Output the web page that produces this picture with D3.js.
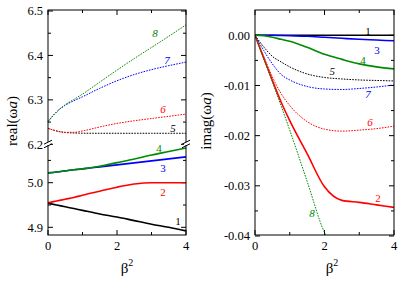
<!DOCTYPE html>
<html>
<head>
<meta charset="utf-8">
<script src="https://cdn.jsdelivr.net/npm/d3@7"></script>
<style>
  body { margin: 0; background: #fff; }
  svg { display: block; }
  text { font-family: "Liberation Serif", "Times New Roman", serif; }
</style>
</head>
<body>
<svg id="chart" width="399" height="284"></svg>
<script>
// beta^2 sample points
const beta2 = [0, 0.25, 0.5, 0.75, 1, 1.5, 2, 2.5, 3, 3.5, 4];
const beta2Steep = [0, 0.5, 1, 1.5, 2, 2.05];

// real(wa), lower band
const re1 = [4.954, 4.950, 4.946, 4.942, 4.938, 4.930, 4.923, 4.915, 4.907, 4.900, 4.892];
const re2 = [4.955, 4.959, 4.963, 4.967, 4.972, 4.981, 4.990, 4.997, 5.000, 5.000, 5.000];
const re3 = [5.022, 5.024, 5.0265, 5.029, 5.031, 5.0355, 5.040, 5.0445, 5.049, 5.0535, 5.058];
const re4 = [5.022, 5.024, 5.0265, 5.029, 5.031, 5.037, 5.045, 5.053, 5.062, 5.070, 5.078];
// real(wa), upper band
const re5 = [6.236, 6.230, 6.2265, 6.2255, 6.225, 6.2248, 6.2248, 6.2248, 6.2248, 6.2248, 6.2248];
const re6 = [6.236, 6.230, 6.227, 6.227, 6.230, 6.239, 6.247, 6.253, 6.258, 6.263, 6.268];
const re7 = [6.251, 6.273, 6.288, 6.298, 6.307, 6.326, 6.343, 6.357, 6.368, 6.377, 6.385];
const re8 = [6.251, 6.273, 6.289, 6.301, 6.313, 6.340, 6.367, 6.393, 6.418, 6.443, 6.469];

// imag(wa)
const im1 = [0, 0, 0, 0, 0, 0, 0, 0, 0, 0, 0];
const im2 = [0, -0.0045, -0.0090, -0.0133, -0.0170, -0.0236, -0.0302, -0.0329, -0.0333, -0.0338, -0.0343];
const im3 = [0, 0, 0, -0.00005, -0.0001, -0.0002, -0.0004, -0.0006, -0.0008, -0.00095, -0.0011];
const im4 = [0, -0.0001, -0.0004, -0.0008, -0.0012, -0.0024, -0.0038, -0.0048, -0.0057, -0.0063, -0.0067];
const im5 = [0, -0.0023, -0.0042, -0.0053, -0.0063, -0.0077, -0.0084, -0.0087, -0.0089, -0.0090, -0.0091];
const im6 = [0, -0.0042, -0.0083, -0.0116, -0.0140, -0.0172, -0.0187, -0.0191, -0.0189, -0.0186, -0.0181];
const im7 = [0, -0.0030, -0.0057, -0.0078, -0.0089, -0.0102, -0.0107, -0.0108, -0.0106, -0.0103, -0.0099];
const im8 = [0, -0.0093, -0.0189, -0.0291, -0.0393, -0.0400];

// ticks
const xTicks = [0, 2, 4];
const xMinor = [1, 3];
const upTicks = [6.2, 6.3, 6.4, 6.5];
const upMinor = [6.25, 6.35, 6.45];
const lowTicks = [4.9, 5.0];
const lowMinor = [4.95, 5.05];
const imTicks = [0, -0.01, -0.02, -0.03, -0.04];
const imMinor = [-0.005, -0.015, -0.025, -0.035];

const RED = "#ff0000", GREEN = "#008a00", BLUE = "#0000ff", BLACK = "#000";

const svg = d3.select("#chart");
const yTop = 10, yBottom = 235, breakY = 144;

const xL = d3.scaleLinear().domain([0, 4]).range([48, 186]);
const xR = d3.scaleLinear().domain([0, 4]).range([255, 394]);
const yUp = d3.scaleLinear().domain([6.2, 6.5]).range([144.3, 11]);
const yLow = d3.scaleLinear().domain([4.9, 5.0]).range([227.3, 182.7]);
const yIm = d3.scaleLinear().domain([-0.04, 0]).range([236, 35.3]);

const series = [
  // left panel
  { xs: beta2, ys: re1, x: xL, y: yLow, color: BLACK, dash: false, label: "1", lx: 3.77, ly: 4.914 },
  { xs: beta2, ys: re2, x: xL, y: yLow, color: RED, dash: false, label: "2", lx: 3.33, ly: 4.979 },
  { xs: beta2, ys: re3, x: xL, y: yLow, color: BLUE, dash: false, label: "3", lx: 3.33, ly: 5.033 },
  { xs: beta2, ys: re4, x: xL, y: yLow, color: GREEN, dash: false, label: "4", lx: 3.22, ly: 5.078 },
  { xs: beta2, ys: re5, x: xL, y: yUp, color: BLACK, dash: true, label: "5", lx: 3.62, ly: 6.237 },
  { xs: beta2, ys: re6, x: xL, y: yUp, color: RED, dash: true, label: "6", lx: 3.33, ly: 6.279 },
  { xs: beta2, ys: re7, x: xL, y: yUp, color: BLUE, dash: true, label: "7", lx: 3.45, ly: 6.390 },
  { xs: beta2, ys: re8, x: xL, y: yUp, color: GREEN, dash: true, label: "8", lx: 3.10, ly: 6.451 },
  // right panel
  { xs: beta2, ys: im1, x: xR, y: yIm, color: BLACK, dash: false, label: "1", lx: 3.25, ly: 0.0009, clip: true },
  { xs: beta2, ys: im2, x: xR, y: yIm, color: RED, dash: false, label: "2", lx: 3.54, ly: -0.0325, clip: true },
  { xs: beta2, ys: im3, x: xR, y: yIm, color: BLUE, dash: false, label: "3", lx: 3.51, ly: -0.0029, clip: true },
  { xs: beta2, ys: im4, x: xR, y: yIm, color: GREEN, dash: false, label: "4", lx: 3.11, ly: -0.0050, clip: true },
  { xs: beta2, ys: im5, x: xR, y: yIm, color: BLACK, dash: true, label: "5", lx: 2.22, ly: -0.0071, clip: true },
  { xs: beta2, ys: im6, x: xR, y: yIm, color: RED, dash: true, label: "6", lx: 3.31, ly: -0.0173, clip: true },
  { xs: beta2, ys: im7, x: xR, y: yIm, color: BLUE, dash: true, label: "7", lx: 3.25, ly: -0.0118, clip: true },
  { xs: beta2Steep, ys: im8, x: xR, y: yIm, color: GREEN, dash: true, label: "8", lx: 1.64, ly: -0.0355, clip: true }
];

svg.append("clipPath").attr("id", "clipR")
  .append("rect").attr("x", 255).attr("y", yTop).attr("width", 139).attr("height", yBottom - yTop);

// ticks (inward) on all four sides of a panel
function frameTicks(x, x0, x1) {
  const g = svg.append("g");
  const tick = (ax, ay, bx, by) => g.append("line")
      .attr("x1", ax).attr("y1", ay).attr("x2", bx).attr("y2", by)
      .attr("stroke", "#000").attr("stroke-width", 1);
  xTicks.forEach(t => { tick(x(t), yBottom, x(t), yBottom - 5); tick(x(t), yTop, x(t), yTop + 5); });
  xMinor.forEach(t => { tick(x(t), yBottom, x(t), yBottom - 3); tick(x(t), yTop, x(t), yTop + 3); });
  return (yv, len) => { tick(x0, yv, x0 + len, yv); tick(x1, yv, x1 - len, yv); };
}

const tickL = frameTicks(xL, 48, 186);
upTicks.forEach(t => tickL(yUp(t), 5));
upMinor.forEach(t => tickL(yUp(t), 3));
lowTicks.forEach(t => tickL(yLow(t), 5));
lowMinor.forEach(t => tickL(yLow(t), 3));

const tickR = frameTicks(xR, 255, 394);
imTicks.forEach(t => tickR(yIm(t), 5));
imMinor.forEach(t => tickR(yIm(t), 3));

// curves
const line = s => d3.line()
    .x(d => s.x(d[0]))
    .y(d => s.y(d[1]))
    .curve(d3.curveMonotoneX);

series.forEach(s => {
  svg.append("path")
    .datum(s.xs.map((b, i) => [b, s.ys[i]]))
    .attr("d", line(s))
    .attr("fill", "none")
    .attr("stroke", s.color)
    .attr("stroke-width", s.dash ? 1 : 1.6)
    .attr("stroke-dasharray", s.dash ? "1.6,1.2" : null)
    .attr("clip-path", s.clip ? "url(#clipR)" : null);
  svg.append("text")
    .attr("x", s.x(s.lx)).attr("y", s.y(s.ly)).attr("dy", "0.35em")
    .attr("text-anchor", "middle")
    .attr("font-size", 11)
    .attr("font-style", s.dash ? "italic" : "normal")
    .attr("fill", s.color)
    .text(s.label);
});

// frames
svg.append("rect").attr("x", 48).attr("y", yTop).attr("width", 138).attr("height", yBottom - yTop)
  .attr("fill", "none").attr("stroke", "#000").attr("stroke-width", 1);
svg.append("rect").attr("x", 255).attr("y", yTop).attr("width", 139).attr("height", yBottom - yTop)
  .attr("fill", "none").attr("stroke", "#000").attr("stroke-width", 1);

// axis break marks
[48, 186].forEach(bx => {
  svg.append("rect").attr("x", bx - 2).attr("y", breakY - 2).attr("width", 4).attr("height", 3).attr("fill", "#fff");
  [-1.8, 1.8].forEach(o => {
    svg.append("line")
      .attr("x1", bx - 4).attr("y1", breakY + o + 2)
      .attr("x2", bx + 4).attr("y2", breakY + o - 2)
      .attr("stroke", "#000").attr("stroke-width", 1);
  });
});

// tick labels
const fmt1 = d3.format(".1f"), fmt2 = d3.format(".2f");
const label = (x, y, txt, anchor) => svg.append("text")
  .attr("x", x).attr("y", y).attr("dy", "0.35em")
  .attr("text-anchor", anchor).attr("font-size", 12.5).attr("fill", "#000").text(txt);

xTicks.forEach(t => { label(xL(t), 246, t, "middle"); label(xR(t), 246, t, "middle"); });
upTicks.forEach(t => label(43, yUp(t), fmt1(t), "end"));
lowTicks.forEach(t => label(43, yLow(t), fmt1(t), "end"));
imTicks.forEach(t => label(250, yIm(t), fmt2(t).replace("−", "-"), "end"));

// axis titles
function yTitle(x, word) {
  const t = svg.append("text")
    .attr("transform", `translate(${x},121) rotate(-90)`)
    .attr("text-anchor", "middle").attr("font-size", 15).attr("fill", "#000");
  t.append("tspan").text(word + "(ω");
  t.append("tspan").attr("font-style", "italic").text("a");
  t.append("tspan").text(")");
}
yTitle(17, "real");
yTitle(211, "imag");

function xTitle(x) {
  const t = svg.append("text").attr("x", x).attr("y", 273)
    .attr("text-anchor", "middle").attr("font-size", 15).attr("fill", "#000");
  t.append("tspan").text("β");
  t.append("tspan").attr("font-size", 10).attr("dy", -7).text("2");
}
xTitle(127);
xTitle(332);
</script>
</body>
</html>
